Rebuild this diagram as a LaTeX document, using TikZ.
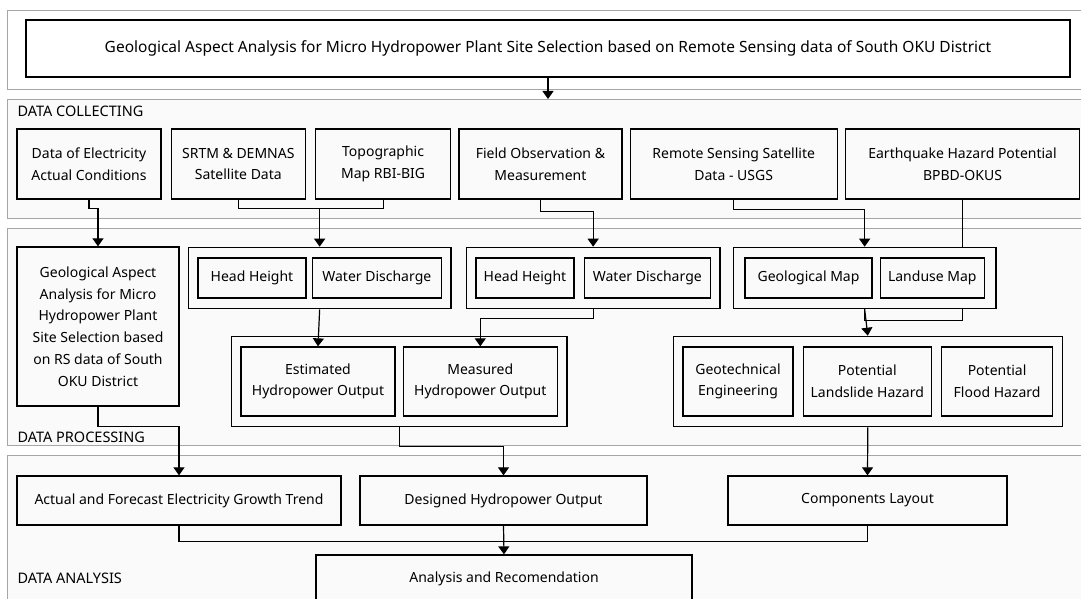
\documentclass[tikz,border=0pt]{standalone}
\usepackage{fontspec}
\setmainfont{Noto Sans}
\usetikzlibrary{positioning, fit, arrows.meta, calc}

\newcommand{\boxfont}{\fontsize{14}{21.7}\selectfont}
\newcommand{\mainfont}{\fontsize{15.5}{20}\selectfont}
\newcommand{\lanefont}{\fontsize{14.5}{18}\selectfont}

\begin{document}
\begin{tikzpicture}[x=1pt, y=-1pt,
  panel/.style={draw=gray!70, line width=0.9pt, fill=gray!4, anchor=north west,
    minimum width=1090pt, inner sep=0pt},
  lanetitle/.style={font=\lanefont, anchor=west},
  box/.style={draw, line width=1.3pt, align=center, inner sep=0pt, font=\boxfont},
  src/.style={box, minimum height=70pt},
  item/.style={box, minimum height=40pt},
  result/.style={box, minimum height=69pt},
  outcome/.style={box, minimum height=49pt},
  grp/.style={draw, line width=1.3pt, inner xsep=9pt, inner ysep=10pt},
  conn/.style={line width=1.2pt},
  arr/.style={conn, -{Triangle[width=11pt, length=8pt]}}]
  \useasboundingbox (0,0) rectangle (1081,599);
  \clip (0,0) rectangle (1081,599);

  % lanes
  \node[panel, fill=white, minimum height=79pt] (toppanel) at (7,10) {};
  \node[panel, minimum height=119pt] (collect) at (7,99) {};
  \node[panel, minimum height=217pt] (process) at (7,228) {};
  \node[panel, minimum height=160pt] (analyse) at (7,455) {};
  \node[lanetitle] (lblcollect) at (14,111) {DATA COLLECTING};
  \node[lanetitle] (lblprocess) at (14,437) {DATA PROCESSING};
  \node[lanetitle] (lblanalyse) at (14,578) {DATA ANALYSIS};

  \node[box, font=\mainfont, minimum width=1044pt, minimum height=57pt] (main) at (548,48.5)
    {Geological Aspect Analysis for Micro Hydropower Plant Site Selection based on Remote Sensing data of South OKU District};

  % data collecting
  \node[src, minimum width=144pt] (elec) at (89,164) {Data of Electricity\\Actual Conditions};
  \node[src, minimum width=134pt, right=9pt of elec] (srtm) {SRTM \& DEMNAS\\Satellite Data};
  \node[src, minimum width=135pt, right=9pt of srtm] (topo) {Topographic\\Map RBI-BIG};
  \node[src, minimum width=163pt, right=7pt of topo] (field) {Field Observation \&\\Measurement};
  \node[src, minimum width=207pt, right=7pt of field] (remote) {Remote Sensing Satellite\\Data - USGS};
  \node[src, minimum width=234pt, right=7pt of remote] (quake) {Earthquake Hazard Potential\\BPBD-OKUS};

  % data processing
  \node[box, minimum width=162pt, minimum height=159pt] (rsgeo) at (98,326.5)
    {Geological Aspect\\Analysis for Micro\\Hydropower Plant\\Site Selection based\\on RS data of South\\OKU District};
  \node[item, minimum width=108pt] (hh1) at (252,278) {Head Height};
  \node[item, minimum width=129pt, right=5pt of hh1] (wd1) {Water Discharge};
  \node[item, minimum width=98pt] (hh2) at (525,278) {Head Height};
  \node[item, minimum width=126pt, right=9pt of hh2] (wd2) {Water Discharge};
  \node[item, minimum width=127pt] (geomap) at (808.5,278) {Geological Map};
  \node[item, minimum width=104pt, right=7pt of geomap] (landuse) {Landuse Map};
  \node[grp, fit=(hh1)(wd1)] (g1) {};
  \node[grp, fit=(hh2)(wd2)] (g2) {};
  \node[grp, fit=(geomap)(landuse), inner xsep=11pt] (g3) {};

  \node[result, minimum width=154pt] (est) at (318,381.5) {Estimated\\Hydropower Output};
  \node[result, minimum width=154pt, right=7pt of est] (meas) {Measured\\Hydropower Output};
  \node[result, minimum width=110pt] (geotech) at (738,381.5) {Geotechnical\\Engineering};
  \node[result, minimum width=128pt, right=9pt of geotech] (landslide) {Potential\\Landslide Hazard};
  \node[result, minimum width=111pt, right=9pt of landslide] (flood) {Potential\\Flood Hazard};
  \node[grp, fit=(est)(meas)] (g4) {};
  \node[grp, fit=(geotech)(flood)] (g5) {};

  % data analysis
  \node[outcome, minimum width=324pt] (trend) at (179,500.5) {Actual and Forecast Electricity Growth Trend};
  \node[outcome, minimum width=287pt] (designed) at (503.5,500.5) {Designed Hydropower Output};
  \node[outcome, minimum width=279pt] (layout) at (867.5,500.5) {Components Layout};
  \node[box, minimum width=376pt, minimum height=47pt] (recom) at (504,578.5) {Analysis and Recomendation};

  \draw[arr] (main) -- (main |- collect.north);
  \draw[arr] (elec.south) -- ++(0,9) -| (rsgeo.north);
  \draw[conn] (srtm.south) -- ++(0,9) coordinate (j1) -| (topo.south);
  \draw[arr] (g1.north |- j1) -- (g1.north);
  \draw[arr] (field.south) -- ++(0,12) -| (g2.north);
  \draw[arr] (remote.south) -- ++(0,10) -| (g3.north);
  \draw[conn] (quake.south) -- (quake.south |- g3.north);
  \draw[conn] (quake.south |- g3.south) -- ++(0,11) -| (g3.south);
  \draw[arr] (g3.south) -- (g5.north);
  \draw[arr] (g1.south) -- (est.north);
  \draw[arr] (g2.south) -- ++(0,9) -| (meas.north);
  \draw[arr] (rsgeo.south) -- ++(0,20) -| (trend.north);
  \draw[arr] (g4.south) -- ++(0,19) -| (designed.north);
  \draw[arr] (g5.south) -- (layout.north);
  \draw[conn] (trend.south) -- ++(0,16) -| (layout.south);
  \draw[arr] (designed.south) -- (recom.north);
\end{tikzpicture}
\end{document}
